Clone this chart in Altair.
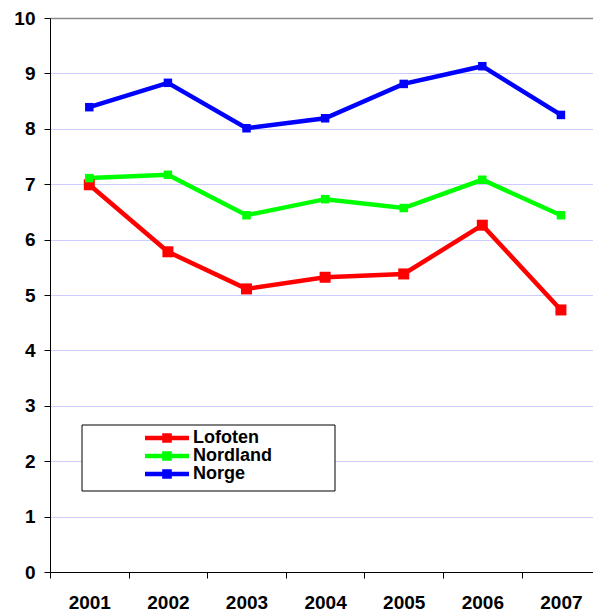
import altair as alt
import pandas as pd

# Series values per year
years = [2001, 2002, 2003, 2004, 2005, 2006, 2007]
series = ["Lofoten", "Nordland", "Norge"]
lofoten = [6.99, 5.78, 5.11, 5.32, 5.38, 6.26, 4.73]
nordland = [7.11, 7.17, 6.44, 6.73, 6.57, 7.08, 6.44]
norge = [8.39, 8.83, 8.01, 8.19, 8.81, 9.13, 8.25]

colors = ["#ff0000", "#00ff00", "#0000ff"]
y_ticks = list(range(0, 11))
# category boundaries (ticks) and centres (labels) on the year axis
x_ticks = [2000.5, 2001, 2001.5, 2002, 2002.5, 2003, 2003.5, 2004,
           2004.5, 2005, 2005.5, 2006, 2006.5, 2007]

rows = []
for name, vals in zip(series, [lofoten, nordland, norge]):
    for yr, v in zip(years, vals):
        rows.append({"year": yr, "series": name, "value": v})
df = pd.DataFrame(rows)

FONT = "Liberation Sans"
W, H = 543, 554

x_enc = alt.X(
    "year:Q",
    title=None,
    scale=alt.Scale(domain=[2000.5, 2007.408], nice=False, zero=False),
    axis=alt.Axis(
        values=x_ticks,
        labelExpr="datum.value % 1 == 0 ? format(datum.value, 'd') : ''",
        tickOpacity={"condition": {"test": "datum.value % 1 == 0", "value": 0}, "value": 1},
        tickSize=6,
        tickColor="black",
        domainColor="black",
        grid=False,
        labelFont=FONT,
        labelFontSize=19,
        labelFontWeight="bold",
        labelColor="black",
        labelPadding=15,
        labelFlush=False,
        labelOverlap=False,
    ),
)

y_enc = alt.Y(
    "value:Q",
    title=None,
    scale=alt.Scale(domain=[0, 10], nice=False),
    axis=alt.Axis(
        values=y_ticks,
        format="d",
        tickSize=6,
        tickColor="black",
        domainColor="black",
        grid=True,
        gridColor={"condition": {"test": "datum.value == 10", "value": "#8c8c8c"}, "value": "#ccccff"},
        gridWidth={"condition": {"test": "datum.value == 10", "value": 1.5}, "value": 1},
        labelFont=FONT,
        labelFontSize=19,
        labelFontWeight="bold",
        labelColor="black",
        labelPadding=9,
    ),
)

color_scale = alt.Scale(domain=series, range=colors)

# legend glyph: a short thick line with a square in its middle
legend_path = "M-2.75,-0.28H2.75V0.28H-2.75Z M-0.6,-0.6H0.6V0.6H-0.6Z"

legend = alt.Legend(
    title=None,
    orient="none",
    legendX=108,
    legendY=411,
    padding=0,
    symbolType=legend_path,
    symbolSize=256,
    symbolStrokeWidth=0,
    symbolOpacity=1,
    labelFont=FONT,
    labelFontSize=18,
    labelFontWeight="bold",
    labelColor="black",
    labelOffset=17,
    rowPadding=0,
)

color_enc = alt.Color("series:N", scale=color_scale, legend=legend)

lines = alt.Chart(df).mark_line(strokeWidth=4.5).encode(
    x=x_enc,
    y=y_enc,
    color=color_enc,
    detail="series:N",
)

# Lofoten markers are drawn larger than the other two series
points_big = alt.Chart(df).transform_filter(
    alt.datum.series == "Lofoten"
).mark_square(filled=True, opacity=1, size=121).encode(
    x="year:Q", y="value:Q", color=color_enc
)
points_small = alt.Chart(df).transform_filter(
    alt.datum.series != "Lofoten"
).mark_square(filled=True, opacity=1, size=72).encode(
    x="year:Q", y="value:Q", color=color_enc
)

legend_box = alt.Chart(pd.DataFrame({"k": [0]})).mark_rect(
    fill="white", stroke="black", strokeWidth=1
).encode(
    x=alt.value(32), x2=alt.value(285), y=alt.value(407), y2=alt.value(473)
)

chart = alt.layer(legend_box, lines, points_big, points_small).properties(
    width=W,
    height=H,
    autosize=alt.AutoSizeParams(type="none"),
    padding={"left": 50, "top": 18, "right": 0, "bottom": 39},
    background="white",
).configure_view(stroke=None)

chart.save("out.html", embed_options={"renderer": "svg", "actions": False})
